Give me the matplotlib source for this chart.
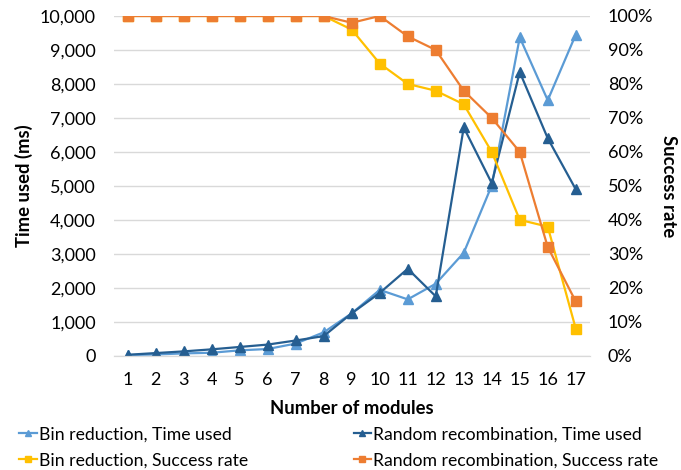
import matplotlib
matplotlib.use('Agg')
import matplotlib.pyplot as plt
from matplotlib.ticker import FuncFormatter

plt.rcParams['font.family'] = ['Lato', 'DejaVu Sans']

# -------------------- Data --------------------
modules = list(range(1, 18))
bin_time = [20, 40, 70, 90, 160, 200, 360, 690, 1250, 1940, 1660, 2120, 3030, 5010, 9370, 7520, 9450]
rand_time = [30, 80, 130, 190, 260, 330, 450, 580, 1250, 1850, 2560, 1750, 6720, 5080, 8350, 6400, 4900]
bin_success = [100, 100, 100, 100, 100, 100, 100, 100, 96, 86, 80, 78, 74, 60, 40, 38, 8]
rand_success = [100, 100, 100, 100, 100, 100, 100, 100, 98, 100, 94, 90, 78, 70, 60, 32, 16]

c_bin_time = '#5B9BD5'
c_rand_time = '#255E91'
c_bin_succ = '#FFC000'
c_rand_succ = '#ED7D31'

# -------------------- Plot --------------------
fig = plt.figure(figsize=(6.81, 4.70), dpi=100)
ax = fig.add_axes([0.167, 0.243, 0.699, 0.723])
ax2 = ax.twinx()

l1, = ax.plot(modules, bin_time, color=c_bin_time, marker='^', ms=7, lw=1.6,
              label='Bin reduction, Time used')
l2, = ax.plot(modules, rand_time, color=c_rand_time, marker='^', ms=7, lw=1.6,
              label='Random recombination, Time used')
l3, = ax2.plot(modules, bin_success, color=c_bin_succ, marker='s', ms=6.5, lw=1.6,
               label='Bin reduction, Success rate')
l4, = ax2.plot(modules, rand_success, color=c_rand_succ, marker='s', ms=6.5, lw=1.6,
               label='Random recombination, Success rate')

ax.set_xlim(0.5, 17.5)
ax.set_ylim(0, 10000)
ax.set_yticks(range(0, 10001, 1000))
ax.yaxis.set_major_formatter(FuncFormatter(lambda v, p: f'{int(v):,}'))
ax2.set_ylim(0, 100)
ax2.set_yticks(range(0, 101, 10))
ax2.yaxis.set_major_formatter(FuncFormatter(lambda v, p: f'{int(v)}%'))
ax.set_xticks(modules)

ax.grid(axis='y', color='#D9D9D9', lw=1)
ax.set_axisbelow(True)
for a in (ax, ax2):
    for s in ('top', 'left', 'right'):
        a.spines[s].set_visible(False)
    a.spines['bottom'].set_color('#D9D9D9')
    a.tick_params(length=0, labelsize=13, colors='black')
ax.tick_params(axis='x', pad=12)
ax.tick_params(axis='y', pad=13)
ax2.tick_params(axis='y', pad=13)

ax.set_xlabel('Number of modules', fontsize=13.3, fontweight='bold', labelpad=8)
ax.set_ylabel('Time used (ms)', fontsize=13.3, fontweight='bold', labelpad=5)
ax2.set_ylabel('Success rate', fontsize=13.3, fontweight='bold', rotation=270, labelpad=17)

fig.legend(handles=[l1, l3, l2, l4], ncol=2, loc='lower left',
           bbox_to_anchor=(0.005, -0.03), frameon=False, fontsize=12.7,
           handlelength=1.0, handletextpad=0.1, columnspacing=6.0,
           labelspacing=0.55, markerscale=0.7)

fig.savefig('out.png', dpi=100)
plt.close(fig)
